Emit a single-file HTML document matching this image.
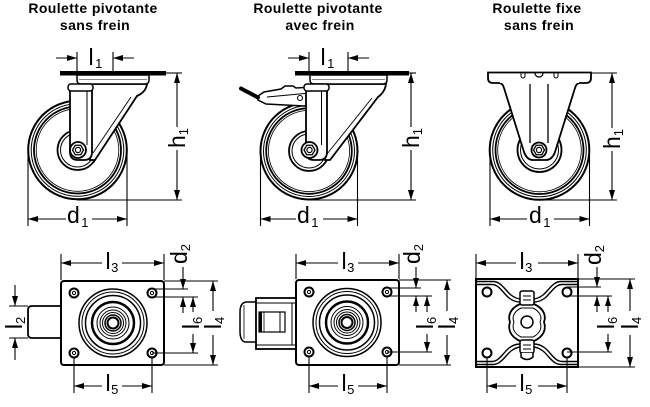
<!DOCTYPE html>
<html><head><meta charset="utf-8"><style>
html,body{margin:0;padding:0;background:#fff;}
svg{display:block;}
text{font-family:"Liberation Sans",sans-serif;fill:#000;stroke:none;}
.t{font-weight:bold;font-size:14px;letter-spacing:0.4px;}
.d{font-size:23px;}
.s{font-size:13px;}
</style></head><body>
<svg width="650" height="407" viewBox="0 0 650 407" xmlns="http://www.w3.org/2000/svg">
<defs>
<marker id="a" viewBox="0 0 10 6" refX="10" refY="3" markerWidth="10" markerHeight="6" markerUnits="userSpaceOnUse" orient="auto"><path d="M0,0L10,3L0,6z" fill="#000"/></marker>
</defs>

<!-- Titles -->
<text class="t" x="93" y="13" text-anchor="middle">Roulette pivotante</text>
<text class="t" x="95" y="30" text-anchor="middle">sans frein</text>
<text class="t" x="318" y="13" text-anchor="middle">Roulette pivotante</text>
<text class="t" x="320" y="30" text-anchor="middle">avec frein</text>
<text class="t" x="537" y="13" text-anchor="middle">Roulette fixe</text>
<text class="t" x="539" y="30" text-anchor="middle">sans frein</text>

<!-- ============ CASTER 1 ============ -->
<g fill="none" stroke="#000">
  <circle cx="77.5" cy="150" r="49.3" stroke-width="2"/>
  <circle cx="77.5" cy="150" r="46.3" stroke-width="1"/>
  <circle cx="77.5" cy="150" r="43.5" stroke-width="1.8"/>
  <circle cx="77.5" cy="150" r="41.3" stroke-width="0.8"/>
  <circle cx="77.5" cy="150" r="20" stroke-width="1.8"/>
  <circle cx="77.5" cy="150" r="17" stroke-width="1"/>
</g>
<g stroke="#000">
  <path d="M90,84 L147,84 Q146,92 137,96 L95,160 L90,160 Z" fill="#fff" stroke-width="1.8"/>
  <line x1="131" y1="97" x2="93" y2="153" stroke-width="0.9"/>
  <path d="M77,75 L149,75 L149,80 Q149,84 145,84 L81,84 Q77,84 77,80 Z" fill="#fff" stroke-width="1.5"/>
  <line x1="79" y1="79.5" x2="147" y2="79.5" stroke="#888" stroke-width="1"/>
  <rect x="60" y="71" width="106" height="4.5" fill="#000" stroke="none"/>
  <path d="M70,88 L70,152 Q70,160 78,160 L84,160 Q92,160 92,152 L92,88" fill="#fff" stroke-width="1.8"/>
  <line x1="87" y1="90" x2="87" y2="145" stroke-width="1"/>
  <rect x="68" y="84" width="25" height="7" rx="3" fill="#fff" stroke-width="1.5"/>
  <circle cx="78" cy="150" r="8" fill="#fff" stroke-width="1.8"/>
  <polygon points="83.5,150 80.75,154.76 75.25,154.76 72.5,150 75.25,145.24 80.75,145.24" fill="#fff" stroke-width="1.3"/>
  <circle cx="78" cy="150" r="2.6" fill="#fff" stroke-width="1.2"/>
</g>
<!-- dims caster 1 -->
<g stroke="#000" stroke-width="1.1" fill="none">
  <line x1="77" y1="52" x2="77" y2="71"/>
  <line x1="113" y1="52" x2="113" y2="71"/>
  <line x1="56" y1="58" x2="77" y2="58" marker-end="url(#a)"/>
  <line x1="134" y1="58" x2="113" y2="58" marker-end="url(#a)"/>
  <line x1="166" y1="73" x2="182" y2="73"/>
  <line x1="77" y1="200" x2="182" y2="200"/>
  <line x1="177" y1="127" x2="177" y2="73" marker-end="url(#a)"/>
  <line x1="177" y1="150" x2="177" y2="200" marker-end="url(#a)"/>
  <line x1="28" y1="152" x2="28" y2="226"/>
  <line x1="127" y1="152" x2="127" y2="226"/>
  <line x1="66" y1="219" x2="28" y2="219" marker-end="url(#a)"/>
  <line x1="92" y1="219" x2="127" y2="219" marker-end="url(#a)"/>
</g>
<text class="d" x="88.5" y="65">l<tspan class="s" dx="1.5" dy="3">1</tspan></text>
<text class="d" transform="translate(177,138) rotate(-90)" text-anchor="middle" y="8">h<tspan class="s" dy="3">1</tspan></text>
<text class="d" x="67" y="223">d<tspan class="s" dx="1.5" dy="4">1</tspan></text>

<!-- ============ CASTER 2 ============ -->
<g fill="none" stroke="#000">
  <circle cx="309" cy="151" r="48.5" stroke-width="2"/>
  <circle cx="309" cy="151" r="45.5" stroke-width="1"/>
  <circle cx="309" cy="151" r="42.8" stroke-width="1.8"/>
  <circle cx="309" cy="151" r="40.6" stroke-width="0.8"/>
  <circle cx="309" cy="151" r="20" stroke-width="1.8"/>
  <circle cx="309" cy="151" r="17" stroke-width="1"/>
</g>
<g stroke="#000">
  <path d="M325,84 L386,84 Q385,92 378,97 L330,160 L325,160 Z" fill="#fff" stroke-width="1.8"/>
  <line x1="372" y1="98" x2="327" y2="154" stroke-width="0.9"/>
  <path d="M310,75 L387,75 L387,80 Q387,84 383,84 L314,84 Q310,84 310,80 Z" fill="#fff" stroke-width="1.5"/>
  <line x1="312" y1="79.5" x2="385" y2="79.5" stroke="#888" stroke-width="1"/>
  <rect x="295" y="71" width="114" height="4.5" fill="#000" stroke="none"/>
  <!-- brake -->
  <path d="M258,96 L264,92 L281,89 L285,86 L293,86 L296,88 L312,87 L312,104 L304,106 L266,104 L258,100 Z" fill="#fff" stroke-width="1.5"/>
  <line x1="267" y1="97" x2="310" y2="93" stroke-width="0.9"/>
  <circle cx="300" cy="98" r="2.5" fill="#fff" stroke-width="1.1"/>
  <line x1="241" y1="88.5" x2="258" y2="97.5" stroke-width="4" stroke-linecap="round"/>
  <path d="M306,88 L306,152 Q306,160 314,160 L319,160 Q327,160 327,152 L327,88" fill="#fff" stroke-width="1.8"/>
  <line x1="321.5" y1="90" x2="321.5" y2="145" stroke-width="1"/>
  <rect x="304" y="84" width="25" height="7" rx="3" fill="#fff" stroke-width="1.5"/>
  <circle cx="309.5" cy="150" r="8" fill="#fff" stroke-width="1.8"/>
  <polygon points="315,150 312.25,154.76 306.75,154.76 304,150 306.75,145.24 312.25,145.24" fill="#fff" stroke-width="1.3"/>
  <circle cx="309.5" cy="150" r="2.6" fill="#fff" stroke-width="1.2"/>
</g>
<g stroke="#000" stroke-width="1.1" fill="none">
  <line x1="309" y1="52" x2="309" y2="71"/>
  <line x1="348" y1="52" x2="348" y2="71"/>
  <line x1="288" y1="58" x2="309" y2="58" marker-end="url(#a)"/>
  <line x1="369" y1="58" x2="348" y2="58" marker-end="url(#a)"/>
  <line x1="409" y1="73" x2="416" y2="73"/>
  <line x1="309" y1="200" x2="416" y2="200"/>
  <line x1="411" y1="127" x2="411" y2="73" marker-end="url(#a)"/>
  <line x1="411" y1="150" x2="411" y2="200" marker-end="url(#a)"/>
  <line x1="260.5" y1="152" x2="260.5" y2="226"/>
  <line x1="357.5" y1="152" x2="357.5" y2="226"/>
  <line x1="296" y1="219" x2="260.5" y2="219" marker-end="url(#a)"/>
  <line x1="323" y1="219" x2="357.5" y2="219" marker-end="url(#a)"/>
</g>
<text class="d" x="320.5" y="65">l<tspan class="s" dx="1.5" dy="3">1</tspan></text>
<text class="d" transform="translate(411,138) rotate(-90)" text-anchor="middle" y="8">h<tspan class="s" dy="3">1</tspan></text>
<text class="d" x="297" y="223">d<tspan class="s" dx="1.5" dy="4">1</tspan></text>

<!-- ============ CASTER 3 ============ -->
<g fill="none" stroke="#000">
  <circle cx="539.5" cy="150" r="49.8" stroke-width="2"/>
  <circle cx="539.5" cy="150" r="46.8" stroke-width="1"/>
  <circle cx="539.5" cy="150" r="44" stroke-width="1.8"/>
  <circle cx="539.5" cy="150" r="41.8" stroke-width="0.8"/>
  <circle cx="539.5" cy="150" r="22" stroke-width="1.8"/>
  <circle cx="539.5" cy="150" r="19" stroke-width="1"/>
</g>
<g stroke="#000">
  <path d="M500,83 Q503,84 504,88 L524,152 Q527,160 533,160 L546,160 Q552,160 555,152 L575,88 Q576,84 579,83" fill="#fff" stroke-width="1.8"/>
  <path d="M500,83 H493 Q488,83 488,78 V72.5 H591 V78 Q591,83 586,83 H579" fill="#fff" stroke-width="1.8"/>
  <path d="M535,73 A4,4 0 0 0 543,73" fill="none" stroke-width="1.2"/>
  <path d="M521,73 V76 A2,2 0 0 0 525,76 V73" fill="none" stroke-width="1"/>
  <path d="M554,73 V76 A2,2 0 0 0 558,76 V73" fill="none" stroke-width="1"/>
  <line x1="530" y1="84" x2="530" y2="143" stroke-width="1.3"/>
  <line x1="548" y1="84" x2="548" y2="143" stroke-width="1.3"/>
  <circle cx="539" cy="150" r="7.5" fill="#fff" stroke-width="1.8"/>
  <polygon points="544.5,150 541.75,154.76 536.25,154.76 533.5,150 536.25,145.24 541.75,145.24" fill="#fff" stroke-width="1.3"/>
  <circle cx="539" cy="150" r="2.6" fill="#fff" stroke-width="1.2"/>
</g>
<g stroke="#000" stroke-width="1.1" fill="none">
  <line x1="591" y1="73" x2="617" y2="73"/>
  <line x1="540" y1="200" x2="617" y2="200"/>
  <line x1="612" y1="128" x2="612" y2="73" marker-end="url(#a)"/>
  <line x1="612" y1="151" x2="612" y2="200" marker-end="url(#a)"/>
  <line x1="490" y1="152" x2="490" y2="226"/>
  <line x1="589.5" y1="152" x2="589.5" y2="226"/>
  <line x1="527" y1="219" x2="490" y2="219" marker-end="url(#a)"/>
  <line x1="554" y1="219" x2="589.5" y2="219" marker-end="url(#a)"/>
</g>
<text class="d" transform="translate(612,139) rotate(-90)" text-anchor="middle" y="8">h<tspan class="s" dy="3">1</tspan></text>
<text class="d" x="529" y="223">d<tspan class="s" dx="1.5" dy="4">1</tspan></text>

<!-- ============ PLATE 1 ============ -->
<g stroke="#000">
  <path d="M61,306 H32 Q28,306 28,310 V334 Q28,338 32,338 H61" fill="#fff" stroke-width="1.8"/>
  <rect x="61" y="281" width="103" height="84" rx="3" fill="#fff" stroke-width="2"/>
  <g fill="none">
    <circle cx="113" cy="323" r="34" stroke-width="1.5"/>
    <circle cx="113" cy="323" r="31" stroke-width="1"/>
    <circle cx="113" cy="323" r="27.5" stroke-width="1.5"/>
    <circle cx="113" cy="323" r="21" stroke-width="2.5"/>
    <circle cx="113" cy="323" r="16" stroke-width="1"/>
    <circle cx="113" cy="323" r="13" stroke-width="1"/>
    <circle cx="113" cy="323" r="10.5" stroke-width="1"/>
    <circle cx="113" cy="323" r="8" stroke-width="1.5"/>
    <circle cx="113" cy="323" r="5.5" stroke-width="2"/>
  </g>
  <g fill="#fff">
    <circle cx="74" cy="293" r="4.5" stroke-width="2"/><circle cx="74" cy="293" r="1.6" stroke-width="1"/>
    <circle cx="152" cy="293" r="4.5" stroke-width="2"/><circle cx="152" cy="293" r="1.6" stroke-width="1"/>
    <circle cx="74" cy="353" r="4.5" stroke-width="2"/><circle cx="74" cy="353" r="1.6" stroke-width="1"/>
    <circle cx="152" cy="353" r="4.5" stroke-width="2"/><circle cx="152" cy="353" r="1.6" stroke-width="1"/>
  </g>
</g>
<g stroke="#000" stroke-width="1.1" fill="none">
  <line x1="61" y1="254" x2="61" y2="280"/>
  <line x1="164" y1="254" x2="164" y2="280"/>
  <line x1="102" y1="263" x2="61" y2="263" marker-end="url(#a)"/>
  <line x1="122" y1="263" x2="164" y2="263" marker-end="url(#a)"/>
  <line x1="74" y1="358" x2="74" y2="393"/>
  <line x1="152" y1="358" x2="152" y2="393"/>
  <line x1="102" y1="386" x2="74" y2="386" marker-end="url(#a)"/>
  <line x1="122" y1="386" x2="152" y2="386" marker-end="url(#a)"/>
  <line x1="9" y1="306" x2="28" y2="306"/>
  <line x1="9" y1="338" x2="28" y2="338"/>
  <line x1="15" y1="285" x2="15" y2="306" marker-end="url(#a)"/>
  <line x1="15" y1="360" x2="15" y2="338" marker-end="url(#a)"/>
  <line x1="164" y1="281" x2="218" y2="281"/>
  <line x1="152" y1="289" x2="188" y2="289"/>
  <line x1="152" y1="297" x2="198" y2="297"/>
  <line x1="152" y1="353" x2="198" y2="353"/>
  <line x1="164" y1="365" x2="218" y2="365"/>
  <line x1="183" y1="267" x2="183" y2="289" marker-end="url(#a)"/>
  <line x1="183" y1="313" x2="183" y2="297" marker-end="url(#a)"/>
  <line x1="193" y1="312" x2="193" y2="297" marker-end="url(#a)"/>
  <line x1="193" y1="334" x2="193" y2="353" marker-end="url(#a)"/>
  <line x1="213" y1="311" x2="213" y2="281" marker-end="url(#a)"/>
  <line x1="213" y1="335" x2="213" y2="365" marker-end="url(#a)"/>
</g>
<text class="d" x="105.5" y="269">l<tspan class="s" dx="0.5" dy="3">3</tspan></text>
<text class="d" x="105.5" y="391">l<tspan class="s" dx="0.5" dy="3">5</tspan></text>
<text class="d" transform="translate(15,323) rotate(-90)" text-anchor="middle" y="7">l<tspan class="s" dy="3">2</tspan></text>
<text class="d" transform="translate(183,254) rotate(-90)" text-anchor="middle" y="4">d<tspan class="s" dy="3">2</tspan></text>
<text class="d" transform="translate(193,323) rotate(-90)" text-anchor="middle" y="6">l<tspan class="s" dy="3">6</tspan></text>
<text class="d" transform="translate(213,323) rotate(-90)" text-anchor="middle" y="8">l<tspan class="s" dy="3">4</tspan></text>

<!-- ============ PLATE 2 ============ -->
<g stroke="#000">
  <path d="M256,302 H246 Q240,303 240,312 V331 Q240,342 246,342 H256" fill="#fff" stroke-width="1.5"/>
  <line x1="244" y1="305" x2="244" y2="339" stroke-width="0.8"/>
  <rect x="256" y="298" width="40" height="51" fill="#fff" stroke-width="1.8"/>
  <line x1="256" y1="303" x2="296" y2="303" stroke-width="1"/>
  <line x1="256" y1="345" x2="296" y2="345" stroke-width="1"/>
  <line x1="292" y1="303" x2="292" y2="345" stroke-width="1"/>
  <rect x="259" y="312" width="26" height="20" fill="#fff" stroke-width="1.2"/>
  <rect x="259" y="312" width="3" height="20" fill="#000" stroke="none"/>
  <line x1="264" y1="312" x2="264" y2="332" stroke-width="0.8"/>
  <line x1="280" y1="312" x2="280" y2="332" stroke-width="1"/>
  <rect x="296" y="280" width="103" height="85" rx="3" fill="#fff" stroke-width="2"/>
  <g fill="none">
    <circle cx="347" cy="322.5" r="34" stroke-width="1.5"/>
    <circle cx="347" cy="322.5" r="31" stroke-width="1"/>
    <circle cx="347" cy="322.5" r="27.5" stroke-width="1.5"/>
    <circle cx="347" cy="322.5" r="21" stroke-width="2.5"/>
    <circle cx="347" cy="322.5" r="16" stroke-width="1"/>
    <circle cx="347" cy="322.5" r="13" stroke-width="1"/>
    <circle cx="347" cy="322.5" r="10.5" stroke-width="1"/>
    <circle cx="347" cy="322.5" r="8" stroke-width="1.5"/>
    <circle cx="347" cy="322.5" r="5.5" stroke-width="2"/>
  </g>
  <g fill="#fff">
    <circle cx="309" cy="292" r="4.5" stroke-width="2"/><circle cx="309" cy="292" r="1.6" stroke-width="1"/>
    <circle cx="387" cy="292" r="4.5" stroke-width="2"/><circle cx="387" cy="292" r="1.6" stroke-width="1"/>
    <circle cx="309" cy="352" r="4.5" stroke-width="2"/><circle cx="309" cy="352" r="1.6" stroke-width="1"/>
    <circle cx="387" cy="352" r="4.5" stroke-width="2"/><circle cx="387" cy="352" r="1.6" stroke-width="1"/>
  </g>
</g>
<g stroke="#000" stroke-width="1.1" fill="none">
  <line x1="296" y1="254" x2="296" y2="279"/>
  <line x1="399" y1="254" x2="399" y2="279"/>
  <line x1="338" y1="263" x2="296" y2="263" marker-end="url(#a)"/>
  <line x1="358" y1="263" x2="399" y2="263" marker-end="url(#a)"/>
  <line x1="309" y1="357" x2="309" y2="393"/>
  <line x1="387" y1="357" x2="387" y2="393"/>
  <line x1="338" y1="386" x2="309" y2="386" marker-end="url(#a)"/>
  <line x1="358" y1="386" x2="387" y2="386" marker-end="url(#a)"/>
  <line x1="399" y1="280" x2="451" y2="280"/>
  <line x1="387" y1="288" x2="421" y2="288"/>
  <line x1="387" y1="296" x2="432" y2="296"/>
  <line x1="387" y1="352" x2="432" y2="352"/>
  <line x1="399" y1="365" x2="451" y2="365"/>
  <line x1="416" y1="267" x2="416" y2="288" marker-end="url(#a)"/>
  <line x1="416" y1="312" x2="416" y2="296" marker-end="url(#a)"/>
  <line x1="427" y1="312" x2="427" y2="296" marker-end="url(#a)"/>
  <line x1="427" y1="334" x2="427" y2="352" marker-end="url(#a)"/>
  <line x1="447" y1="311" x2="447" y2="280" marker-end="url(#a)"/>
  <line x1="447" y1="335" x2="447" y2="365" marker-end="url(#a)"/>
</g>
<text class="d" x="341.5" y="269">l<tspan class="s" dx="0.5" dy="3">3</tspan></text>
<text class="d" x="341.5" y="391">l<tspan class="s" dx="0.5" dy="3">5</tspan></text>
<text class="d" transform="translate(416,254) rotate(-90)" text-anchor="middle" y="4">d<tspan class="s" dy="3">2</tspan></text>
<text class="d" transform="translate(427,323) rotate(-90)" text-anchor="middle" y="6">l<tspan class="s" dy="3">6</tspan></text>
<text class="d" transform="translate(447,323) rotate(-90)" text-anchor="middle" y="8">l<tspan class="s" dy="3">4</tspan></text>

<!-- ============ PLATE 3 ============ -->
<g stroke="#000">
  <rect x="476" y="279" width="102" height="88" fill="#fff" stroke-width="2"/>
  <g fill="none" stroke-width="1.4">
    <path d="M476,281.5 H493 C501,281.5 505,290 511,295 C515,298 518,299 521,299"/>
    <path d="M578,281.5 H561 C553,281.5 549,290 543,295 C539,298 536,299 533,299"/>
    <path d="M476,284.5 H492 C499,284.5 503,293 509,298 C513,301 516,302 520,302"/>
    <path d="M578,284.5 H562 C555,284.5 551,293 545,298 C541,301 538,302 534,302"/>
    <path d="M476,364.5 H493 C501,364.5 505,356 511,351 C515,348 518,347 521,347"/>
    <path d="M578,364.5 H561 C553,364.5 549,356 543,351 C539,348 536,347 533,347"/>
    <path d="M476,361.5 H492 C499,361.5 503,353 509,348 C513,345 516,344 520,344"/>
    <path d="M578,361.5 H562 C555,361.5 551,353 545,348 C541,345 538,344 534,344"/>
  </g>
  <path d="M520,304 C509,309 508,317 510,322 C508,328 509,336 520,341 H534 C545,336 546,328 544,322 C546,317 545,309 534,304 Z" fill="#fff" stroke-width="1.8"/>
  <path d="M521,308 C513,312 512,318 514,322 C512,327 513,333 521,337 H533 C541,333 542,327 540,322 C542,318 541,312 533,308 Z" fill="none" stroke-width="1"/>
  <circle cx="527" cy="322" r="6" fill="#fff" stroke-width="1.5"/>
  <rect x="520" y="291" width="14" height="14" rx="2" fill="#fff" stroke-width="1.5"/>
  <line x1="523" y1="296" x2="531" y2="296" stroke-width="1"/>
  <line x1="523" y1="300" x2="531" y2="300" stroke-width="1"/>
  <rect x="520" y="340" width="14" height="13" rx="2" fill="#fff" stroke-width="1.5"/>
  <line x1="523" y1="345" x2="531" y2="345" stroke-width="1"/>
  <line x1="523" y1="349" x2="531" y2="349" stroke-width="1"/>
  <path d="M521,353 V357 Q527,362 533,357 V353" fill="#fff" stroke-width="1.5"/>
  <g fill="#fff">
    <circle cx="487" cy="292" r="4.5" stroke-width="2"/>
    <circle cx="567" cy="292" r="4.5" stroke-width="2"/>
    <circle cx="487" cy="353" r="4.5" stroke-width="2"/>
    <circle cx="567" cy="353" r="4.5" stroke-width="2"/>
  </g>
</g>
<g stroke="#000" stroke-width="1.1" fill="none">
  <line x1="476" y1="254" x2="476" y2="278"/>
  <line x1="578" y1="254" x2="578" y2="278"/>
  <line x1="516" y1="263" x2="476" y2="263" marker-end="url(#a)"/>
  <line x1="538" y1="263" x2="578" y2="263" marker-end="url(#a)"/>
  <line x1="487" y1="358" x2="487" y2="393"/>
  <line x1="567" y1="358" x2="567" y2="393"/>
  <line x1="516" y1="386" x2="487" y2="386" marker-end="url(#a)"/>
  <line x1="538" y1="386" x2="567" y2="386" marker-end="url(#a)"/>
  <line x1="578" y1="279" x2="635" y2="279"/>
  <line x1="567" y1="287" x2="601" y2="287"/>
  <line x1="567" y1="296" x2="612" y2="296"/>
  <line x1="567" y1="352" x2="612" y2="352"/>
  <line x1="578" y1="367" x2="635" y2="367"/>
  <line x1="597" y1="267" x2="597" y2="287" marker-end="url(#a)"/>
  <line x1="597" y1="312" x2="597" y2="296" marker-end="url(#a)"/>
  <line x1="608" y1="312" x2="608" y2="296" marker-end="url(#a)"/>
  <line x1="608" y1="334" x2="608" y2="352" marker-end="url(#a)"/>
  <line x1="630" y1="311" x2="630" y2="279" marker-end="url(#a)"/>
  <line x1="630" y1="335" x2="630" y2="367" marker-end="url(#a)"/>
</g>
<text class="d" x="519.5" y="269">l<tspan class="s" dx="0.5" dy="3">3</tspan></text>
<text class="d" x="519.5" y="391">l<tspan class="s" dx="0.5" dy="3">5</tspan></text>
<text class="d" transform="translate(597,255) rotate(-90)" text-anchor="middle" y="4">d<tspan class="s" dy="3">2</tspan></text>
<text class="d" transform="translate(608,323) rotate(-90)" text-anchor="middle" y="6">l<tspan class="s" dy="3">6</tspan></text>
<text class="d" transform="translate(630,323) rotate(-90)" text-anchor="middle" y="8">l<tspan class="s" dy="3">4</tspan></text>

</svg>
</body></html>
